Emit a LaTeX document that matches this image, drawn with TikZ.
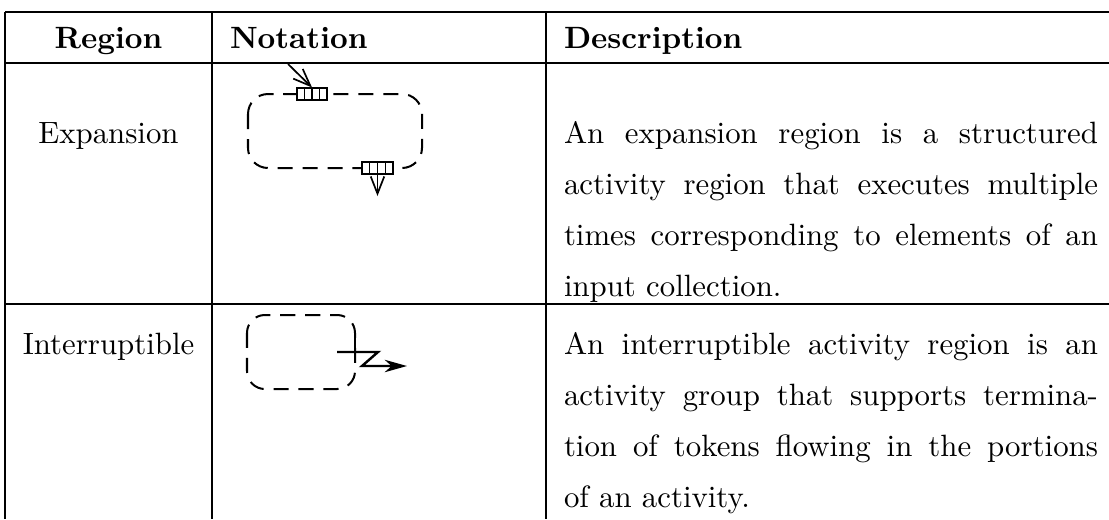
\documentclass[tikz,border=0pt]{standalone}
\usetikzlibrary{arrows.meta,calc}
\newlength\pxu
\setlength\pxu{0.3244pt}
\begin{document}
\begin{tikzpicture}[x=0.3244pt,y=-0.3244pt,
  rule/.style={line width=0.4pt},
  thickrule/.style={line width=0.55pt},
  txt/.style={inner sep=0pt, outer sep=0pt, anchor=base west},
  ctxt/.style={inner sep=0pt, outer sep=0pt, anchor=base},
  hdr/.style={font=\bfseries},
  regionbox/.style={line width=0.65pt, dash pattern=on 4.9pt off 3.2pt},
  pinbox/.style={draw, fill=white, line width=0.35pt, minimum width=9.73pt, minimum height=3.89pt, inner sep=0pt},
  flow/.style={line width=0.55pt, -{Straight Barb[length=5.6pt,width=4.4pt]}},
  intr/.style={line width=0.8pt, -{Stealth[length=7.2pt,width=4pt,inset=2.2pt]}},
  zline/.style={line width=0.8pt}
]
\useasboundingbox (0,0) rectangle (1109,519);

% table rules
\draw[thickrule] (5,12) -- (1109,12);
\draw[rule] (5,63) -- (1109,63);
\draw[thickrule] (5,304) -- (1109,304);
\draw[thickrule] (5,12) -- (5,519);
\draw[rule] (212,12) -- (212,519);
\draw[rule] (546,12) -- (546,519);

% header
\node[ctxt, hdr] (hR) at (108.5,48) {Region};
\node[txt, hdr] (hN) at (230,48) {Notation};
\node[txt, hdr] (hD) at (564,48) {Description};

% row 1
\node[ctxt] (lExp) at (108.5,143) {Expansion};
\node[txt] (d11) at (564,143) {\makebox[534\pxu][s]{An expansion region is a structured}};
\node[txt] (d12) at (564,194) {\makebox[534\pxu][s]{activity region that executes multiple}};
\node[txt] (d13) at (564,245) {\makebox[534\pxu][s]{times corresponding to elements of an}};
\node[txt] (d14) at (564,296) {input collection.};

% row 2
\node[ctxt] (lInt) at (108.5,354) {Interruptible};
\node[txt] (d21) at (564,354) {\makebox[534\pxu][s]{An interruptible activity region is an}};
\node[txt] (d22) at (564,405) {\makebox[534\pxu][s]{activity group that supports termina-}};
\node[txt] (d23) at (564,456) {\makebox[534\pxu][s]{tion of tokens flowing in the portions}};
\node[txt] (d24) at (564,507) {of an activity.};

% expansion region notation
\draw[regionbox, rounded corners=6.5pt] (248,94) rectangle (422,168);
\node[pinbox] (pinA) at (312,94) {};
\node[pinbox, minimum width=10.06pt] (pinB) at (377.5,168) {};
\foreach \p in {pinA,pinB}{
  \foreach \f in {0.25,0.5,0.75}{
    \draw[line width=0.35pt] ($(\p.north west)!\f!(\p.north east)$) -- ($(\p.south west)!\f!(\p.south east)$);
  }
}
\coordinate (stubA) at (283,94);
\coordinate (stubB) at (355,168);
\draw[line width=0.65pt] (stubA) -- (pinA.west);
\draw[line width=0.65pt] (stubB) -- (pinB.west);
\coordinate (inA) at (288,64);
\draw[flow] (inA) -- (pinA.north);
\coordinate (outB) at (377.5,196);
\draw[flow] (pinB.south) -- (outB);

% interruptible region notation
\draw[regionbox, rounded corners=5.8pt] (247,315) rectangle (355,389);
\coordinate (z0) at (355,333);
\coordinate (zt) at (355,352);
\coordinate (z1) at (337,352);
\coordinate (z2) at (378,352);
\coordinate (z3) at (362,366);
\coordinate (z4) at (407,366);
\draw[zline] (z0) -- (zt);
\draw[intr] (z1) -- (z2) -- (z3) -- (z4);
\end{tikzpicture}
\end{document}
